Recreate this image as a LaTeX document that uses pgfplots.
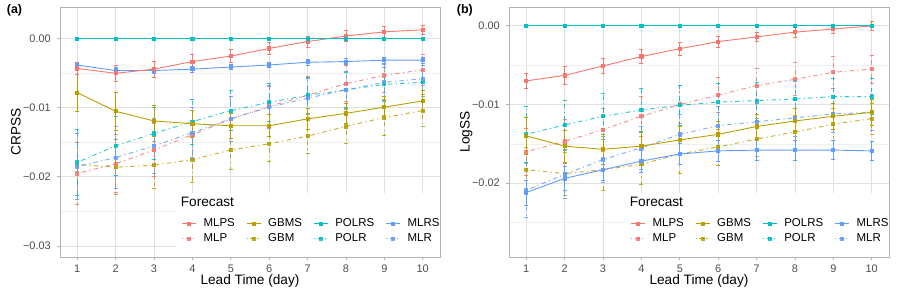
\documentclass[border=0pt]{standalone}
\usepackage{fontspec}
\setmainfont{Liberation Sans}
\usepackage{pgfplots}
\pgfplotsset{compat=1.18}
\definecolor{cR}{HTML}{F8766D}
\definecolor{cG}{HTML}{B79F00}
\definecolor{cT}{HTML}{00BFC4}
\definecolor{cB}{HTML}{619CFF}
\definecolor{gridmaj}{HTML}{E0E0E0}
\definecolor{gridmin}{HTML}{F0F0F0}
\definecolor{bordc}{HTML}{B3B3B3}
\definecolor{txt}{HTML}{4D4D4D}
\pgfplotsset{
  myaxis/.style={
    scale only axis, width=380bp, height=250bp,
    xmin=0.55, xmax=10.45,
    xtick={1,2,3,4,5,6,7,8,9,10},
    xticklabels={1,2,3,4,5,6,7,8,9,10},
    scaled y ticks=false,
    axis line style={bordc, line width=0.8bp},
    grid=both,
    major grid style={gridmaj, line width=0.8bp},
    minor grid style={gridmin, line width=0.5bp},
    tick style={bordc, line width=0.8bp},
    tick align=outside, major tick length=3bp, minor tick length=0pt,
    tick pos=left,
    ticklabel style={font=\fontsize{11}{13}\selectfont, text=txt},
    yticklabel style={inner sep=0pt, anchor=east, xshift=-6bp},
    xticklabel style={inner sep=0pt, anchor=north, yshift=-4bp, text height=8bp, text depth=0bp},
    every axis x label/.style={at={(rel axis cs:0.5,0)}, anchor=base, yshift=-27.5bp, font=\fontsize{13.7}{16}\selectfont},
    every axis y label/.style={at={(rel axis cs:0,0.5)}, anchor=base, rotate=90, yshift=39.3bp, font=\fontsize{13.7}{16}\selectfont},
    xlabel={Lead Time (day)},
    legend columns=4,
    legend cell align=left,
    legend image code/.code={\draw[mark repeat=2,mark phase=2,##1] plot coordinates {(0bp,0bp) (7bp,0bp) (14bp,0bp)};},
    legend style={at={(rel axis cs:0.3203,0.1572)}, anchor=north west, draw=none, fill=none,
      inner sep=0pt, outer sep=0pt, row sep=3bp,
      font=\fontsize{11.5}{13}\selectfont,
      nodes={inner sep=0pt, text height=9bp, text depth=3bp},
      /tikz/every odd column/.append style={column sep=7bp},
      /tikz/every even column/.append style={column sep=11.5bp}},
  },
  ser/.style={line width=0.9bp, mark=square*, mark size=1.6bp, mark options={solid}, forget plot,
    /pgfplots/error bars/y dir=both, /pgfplots/error bars/y explicit,
    /pgfplots/error bars/error mark=-,
    /pgfplots/error bars/error bar style={line width=0.7bp},
    /pgfplots/error bars/error mark options={rotate=90, line width=0.7bp, mark size=2bp, solid}},
  sol/.style={ser, solid},
  dd/.style={ser, dash pattern=on 1.2bp off 3.3bp on 4.4bp off 3.3bp, opacity=0.85},
  lsol/.style={line width=0.9bp, mark=square*, mark size=1.6bp, solid},
  ldd/.style={line width=0.9bp, mark=square*, mark size=1.6bp, mark options={solid}, dash pattern=on 1.2bp off 2.5bp on 4.4bp off 2.5bp, opacity=0.85},
}
\newcommand{\legendblock}{%
  \addlegendimage{lsol, cR}\addlegendentry{MLPS}
  \addlegendimage{lsol, cG}\addlegendentry{GBMS}
  \addlegendimage{lsol, cT}\addlegendentry{POLRS}
  \addlegendimage{lsol, cB}\addlegendentry{MLRS}
  \addlegendimage{ldd, cR}\addlegendentry{MLP}
  \addlegendimage{ldd, cG}\addlegendentry{GBM}
  \addlegendimage{ldd, cT}\addlegendentry{POLR}
  \addlegendimage{ldd, cB}\addlegendentry{MLR}
}
\newcommand{\legendbox}{%
  \fill[white] ([shift={(0bp,0.45bp)}]rel axis cs:0.305,0) rectangle ([shift={(-0.45bp,0bp)}]rel axis cs:1,0.256);
  \node[anchor=base west, font=\fontsize{13.7}{16}\selectfont, inner sep=0pt] at (rel axis cs:0.3176,0.204) {Forecast};
}
\begin{document}
\begin{tikzpicture}
\path[use as bounding box] (0,0) rectangle (899bp,295bp);
\node[anchor=base west, inner sep=0pt, font=\fontsize{12.5}{14}\selectfont\bfseries] at (6.7bp,281.5bp) {(a)};
\node[anchor=base west, inner sep=0pt, font=\fontsize{12.5}{14}\selectfont\bfseries] at (456.7bp,281.5bp) {(b)};
% ---------------- Panel (a)
\begin{axis}[myaxis, at={(60bp,38bp)}, anchor=south west,
  ymin=-0.0316, ymax=0.0046,
  ytick={-0.03,-0.02,-0.01,0}, yticklabels={−0.03,−0.02,−0.01,0.00},
  minor ytick={-0.025,-0.015,-0.005},
  ylabel={CRPSS}]
\legendblock
\addplot[dd, cG] table[x=x, y=y, y error=e] {
x y e
1 -0.0182 0.0045
2 -0.0186 0.0040
3 -0.0183 0.0034
4 -0.0175 0.0033
5 -0.0161 0.0028
6 -0.0152 0.0026
7 -0.0141 0.0025
8 -0.0127 0.0025
9 -0.0114 0.0026
10 -0.0104 0.0023
};
\addplot[dd, cR] table[x=x, y=y, y error=e] {
x y e
1 -0.0195 0.0045
2 -0.0181 0.0042
3 -0.0161 0.0038
4 -0.0139 0.0035
5 -0.0116 0.0032
6 -0.0098 0.0030
7 -0.0082 0.0028
8 -0.0065 0.0026
9 -0.0053 0.0024
10 -0.0045 0.0022
};
\addplot[dd, cT] table[x=x, y=y, y error=e] {
x y e
1 -0.0179 0.0048
2 -0.0155 0.0043
3 -0.0137 0.0038
4 -0.0120 0.0033
5 -0.0104 0.0029
6 -0.0092 0.0028
7 -0.0082 0.0026
8 -0.0074 0.0025
9 -0.0066 0.0025
10 -0.0063 0.0024
};
\addplot[dd, cB] table[x=x, y=y, y error=e] {
x y e
1 -0.0185 0.0048
2 -0.0172 0.0045
3 -0.0155 0.0040
4 -0.0136 0.0036
5 -0.0116 0.0032
6 -0.0099 0.0030
7 -0.0086 0.0028
8 -0.0074 0.0027
9 -0.0063 0.0026
10 -0.0058 0.0025
};
\addplot[sol, cG] table[x=x, y=y, y error=e] {
x y e
1 -0.0078 0.0027
2 -0.0105 0.0027
3 -0.0119 0.0022
4 -0.0123 0.0020
5 -0.0126 0.0018
6 -0.0126 0.0016
7 -0.0116 0.0015
8 -0.0108 0.0015
9 -0.0099 0.0015
10 -0.0090 0.0015
};
\addplot[sol, cB] table[x=x, y=y, y error=e] {
x y e
1 -0.0038 0.0004
2 -0.0046 0.0004
3 -0.0046 0.0004
4 -0.0044 0.0004
5 -0.0041 0.0004
6 -0.0038 0.0004
7 -0.0034 0.0004
8 -0.0033 0.0004
9 -0.0031 0.0004
10 -0.0031 0.0004
};
\addplot[sol, cR] table[x=x, y=y, y error=e] {
x y e
1 -0.0043 0.0009
2 -0.0050 0.0012
3 -0.0044 0.0012
4 -0.0033 0.0010
5 -0.0025 0.0009
6 -0.0014 0.0009
7 -0.0004 0.0008
8 0.0004 0.0008
9 0.0010 0.0008
10 0.0013 0.0007
};
\addplot[sol, cT] table[x=x, y=y, y error=e] {
x y e
1 0 0
2 0 0
3 0 0
4 0 0
5 0 0
6 0 0
7 0 0
8 0 0
9 0 0
10 0 0
};
\legendbox
\end{axis}
% ---------------- Panel (b)
\begin{axis}[myaxis, at={(509bp,38bp)}, anchor=south west,
  ymin=-0.0294, ymax=0.0024,
  ytick={-0.02,-0.01,0}, yticklabels={−0.02,−0.01,0.00},
  minor ytick={-0.025,-0.015,-0.005},
  ylabel={LogSS}]
\legendblock
\addplot[dd, cG] table[x=x, y=y, y error=e] {
x y e
1 -0.0183 0.0028
2 -0.0188 0.0027
3 -0.0183 0.0026
4 -0.0176 0.0025
5 -0.0163 0.0024
6 -0.0154 0.0023
7 -0.0144 0.0022
8 -0.0135 0.0021
9 -0.0125 0.0020
10 -0.0118 0.0020
};
\addplot[dd, cR] table[x=x, y=y, y error=e] {
x y e
1 -0.0160 0.0030
2 -0.0147 0.0028
3 -0.0132 0.0027
4 -0.0115 0.0025
5 -0.0100 0.0024
6 -0.0088 0.0022
7 -0.0076 0.0022
8 -0.0068 0.0021
9 -0.0059 0.0020
10 -0.0055 0.0018
};
\addplot[dd, cT] table[x=x, y=y, y error=e] {
x y e
1 -0.0138 0.0036
2 -0.0126 0.0031
3 -0.0115 0.0029
4 -0.0107 0.0027
5 -0.0101 0.0025
6 -0.0097 0.0024
7 -0.0095 0.0023
8 -0.0093 0.0023
9 -0.0090 0.0023
10 -0.0090 0.0023
};
\addplot[dd, cB] table[x=x, y=y, y error=e] {
x y e
1 -0.0209 0.0034
2 -0.0189 0.0031
3 -0.0170 0.0029
4 -0.0155 0.0027
5 -0.0138 0.0026
6 -0.0127 0.0025
7 -0.0122 0.0024
8 -0.0117 0.0024
9 -0.0112 0.0023
10 -0.0110 0.0023
};
\addplot[sol, cG] table[x=x, y=y, y error=e] {
x y e
1 -0.0140 0.0023
2 -0.0153 0.0020
3 -0.0157 0.0019
4 -0.0153 0.0018
5 -0.0145 0.0017
6 -0.0138 0.0017
7 -0.0128 0.0016
8 -0.0121 0.0016
9 -0.0115 0.0016
10 -0.0110 0.0016
};
\addplot[sol, cB] table[x=x, y=y, y error=e] {
x y e
1 -0.0212 0.0016
2 -0.0194 0.0015
3 -0.0183 0.0014
4 -0.0172 0.0014
5 -0.0163 0.0013
6 -0.0159 0.0013
7 -0.0158 0.0013
8 -0.0158 0.0013
9 -0.0158 0.0012
10 -0.0159 0.0012
};
\addplot[sol, cR] table[x=x, y=y, y error=e] {
x y e
1 -0.0070 0.0010
2 -0.0063 0.0011
3 -0.0051 0.0010
4 -0.0039 0.0009
5 -0.0029 0.0008
6 -0.0020 0.0007
7 -0.0014 0.0006
8 -0.0008 0.0006
9 -0.0004 0.0006
10 0.0000 0.0006
};
\addplot[sol, cT] table[x=x, y=y, y error=e] {
x y e
1 0 0
2 0 0
3 0 0
4 0 0
5 0 0
6 0 0
7 0 0
8 0 0
9 0 0
10 0 0
};
\legendbox
\end{axis}
\end{tikzpicture}
\end{document}
